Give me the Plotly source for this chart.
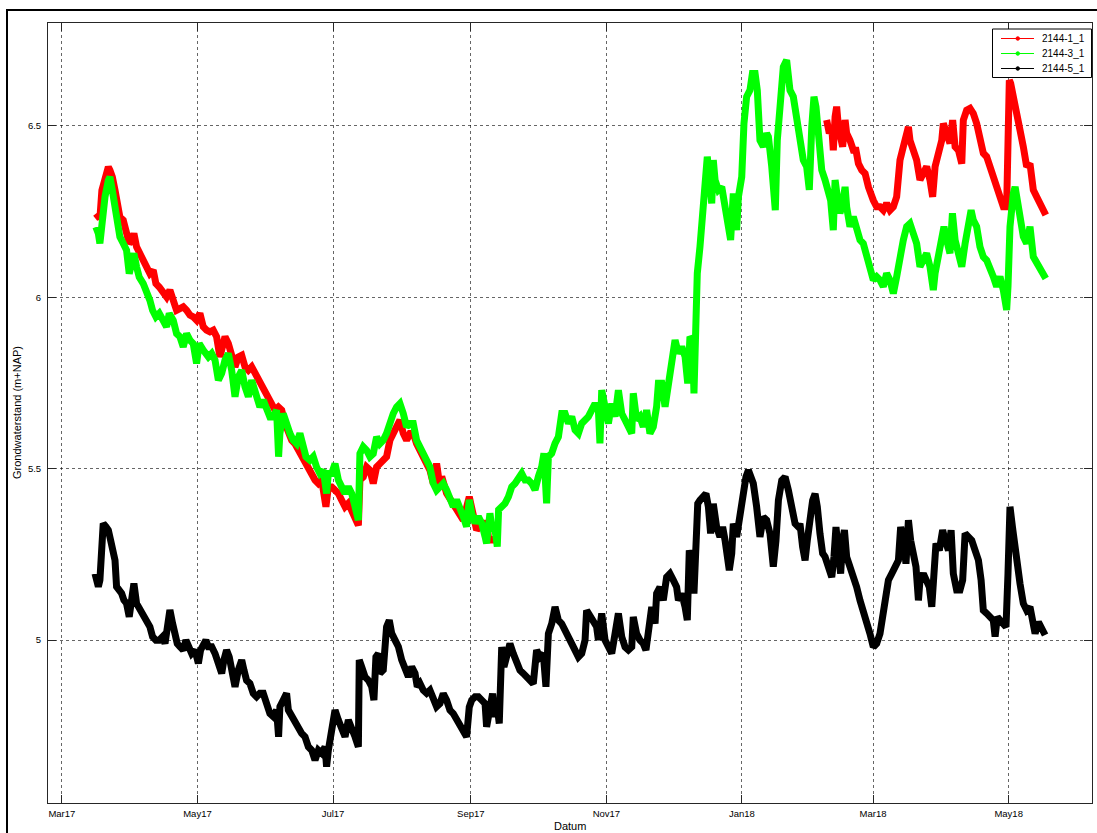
import pandas as pd
import plotly.graph_objects as go

# Groundwater levels (m+NAP) per well; time in days since 1 March 2017
START = pd.Timestamp("2017-03-01")

# ---- 2144-1_1 (two recording periods) ----
red_days_a = [15.3, 16.4, 17.1, 18.0, 19.4, 20.9, 21.6, 22.7, 23.9, 24.9, 26.1, 27.6, 29.1, 30.3, 31.4, 32.4,
              33.6, 35.1, 36.6, 38.1, 39.6, 41.1, 42.3, 43.8, 45.6, 47.1, 48.6, 50.1, 51.6, 53.1, 54.6, 56.1,
              57.6, 59.1, 60.6, 62.1, 63.6, 65.1, 66.6, 68.1, 69.6, 71.1, 72.3, 73.4, 74.9, 76.4, 77.9, 79.4,
              80.9, 82.4, 83.9, 85.4, 86.9, 88.4, 89.9, 91.4, 92.9, 94.4, 95.9, 97.4, 98.9, 100.4, 101.9, 103.4,
              104.9, 106.4, 107.9, 109.4, 110.9, 112.4, 113.9, 115.4, 116.9, 118.8, 119.9, 121.4, 122.9, 124.4,
              125.9, 127.4, 128.9, 130.4, 131.9, 133.4, 134.1, 135.6, 137.1, 138.6, 140.1, 141.6, 143.1, 144.6,
              146.1, 147.6, 149.1, 150.6, 152.1, 153.6, 155.1, 156.6, 158.1, 159.6, 161.1, 162.6, 164.1, 165.6,
              167.1, 168.6, 170.1, 170.9, 173.1, 176.1, 178.4, 180.6, 183.3, 185.1, 186.6, 188.9, 191.1, 191.9,
              193.4, 195.6]
red_level_a = [6.244, 6.239, 6.230, 6.312, 6.351, 6.380, 6.371, 6.351, 6.312, 6.273, 6.234, 6.225, 6.196, 6.157,
               6.166, 6.186, 6.147, 6.128, 6.098, 6.079, 6.069, 6.079, 6.040, 6.030, 6.011, 6.001, 6.021, 5.982,
               5.962, 5.967, 5.972, 5.962, 5.948, 5.943, 5.933, 5.953, 5.914, 5.904, 5.899, 5.904, 5.885, 5.826,
               5.865, 5.885, 5.865, 5.836, 5.797, 5.826, 5.831, 5.797, 5.787, 5.797, 5.778, 5.758, 5.739, 5.729,
               5.700, 5.680, 5.671, 5.680, 5.671, 5.632, 5.603, 5.583, 5.573, 5.554, 5.535, 5.525, 5.505, 5.486,
               5.467, 5.457, 5.467, 5.389, 5.447, 5.447, 5.437, 5.428, 5.408, 5.389, 5.399, 5.379, 5.360, 5.335,
               5.467, 5.476, 5.505, 5.496, 5.457, 5.505, 5.515, 5.525, 5.535, 5.583, 5.603, 5.612, 5.642, 5.603,
               5.583, 5.603, 5.603, 5.573, 5.554, 5.535, 5.515, 5.496, 5.457, 5.515, 5.447, 5.477, 5.428, 5.399,
               5.380, 5.350, 5.418, 5.350, 5.321, 5.341, 5.341, 5.302, 5.292, 5.292]
red_days_b = [344.1, 345.3, 346.4, 347.1, 347.9, 348.6, 349.4, 350.4, 351.3, 352.4, 353.1, 354.6, 356.1, 357.3,
              358.4, 359.9, 361.4, 362.9, 363.6, 365.1, 366.6, 368.1, 369.6, 371.1, 372.6, 374.1, 375.6, 377.1,
              378.6, 380.1, 380.9, 381.6, 383.1, 384.6, 386.1, 387.6, 389.1, 390.6, 391.8, 392.9, 394.4, 395.9,
              396.6, 398.1, 399.6, 400.8, 401.9, 403.4, 404.9, 405.6, 407.1, 408.6, 410.1, 411.6, 413.1, 414.6,
              416.1, 417.6, 419.1, 420.6, 422.1, 423.6, 425.1, 425.7, 426.3, 426.9, 428.1, 429.6, 431.1, 432.6,
              434.1, 435.6, 437.1, 438.6, 440.1, 441.6, 442.7]
red_level_b = [6.517, 6.478, 6.497, 6.429, 6.526, 6.556, 6.497, 6.468, 6.439, 6.517, 6.478, 6.458, 6.429, 6.429,
               6.390, 6.371, 6.361, 6.322, 6.303, 6.283, 6.264, 6.264, 6.254, 6.274, 6.254, 6.264, 6.293, 6.400,
               6.439, 6.478, 6.497, 6.458, 6.429, 6.400, 6.342, 6.361, 6.381, 6.342, 6.293, 6.381, 6.420, 6.458,
               6.507, 6.468, 6.449, 6.517, 6.439, 6.429, 6.390, 6.517, 6.546, 6.551, 6.536, 6.507, 6.458, 6.420,
               6.410, 6.381, 6.342, 6.313, 6.293, 6.264, 6.264, 6.458, 6.633, 6.624, 6.585, 6.546, 6.488, 6.439,
               6.381, 6.390, 6.313, 6.293, 6.274, 6.254, 6.240]

# ---- 2144-3_1 ----
green_days = [15.3, 16.4, 17.1, 18.0, 19.4, 20.9, 21.6, 22.7, 23.9, 24.9, 26.1, 27.6, 29.1, 30.3, 31.4, 32.4,
              33.6, 34.8, 36.6, 38.1, 39.6, 40.8, 42.3, 43.8, 45.6, 47.1, 48.3, 50.1, 51.6, 53.1, 54.6, 56.1,
              57.6, 59.1, 60.6, 61.8, 63.6, 65.9, 67.4, 68.9, 70.4, 71.9, 73.4, 74.9, 76.4, 77.9, 79.4, 80.9,
              82.4, 83.9, 85.4, 86.9, 89.1, 90.6, 92.1, 93.6, 95.1, 96.6, 97.5, 98.1, 99.6, 101.1, 102.6, 104.1,
              105.6, 107.1, 108.3, 109.8, 111.6, 113.1, 114.6, 116.1, 117.6, 119.1, 119.9, 121.4, 122.9, 124.4,
              125.9, 127.4, 128.9, 130.4, 131.9, 133.4, 134.1, 135.6, 137.1, 138.6, 140.1, 141.6, 143.1, 144.6,
              146.1, 147.6, 149.1, 150.6, 152.1, 153.6, 155.1, 156.6, 158.1, 159.6, 161.1, 162.6, 164.1, 165.6,
              167.1, 168.6, 170.1,
              171.6, 173.1, 174.6, 176.1, 177.6, 179.1, 180.6, 182.1, 183.3, 184.4, 185.9, 187.4, 188.9, 190.4,
              191.1, 192.6, 193.4, 194.9, 195.9, 196.5, 197.9, 199.4, 200.9, 202.4, 203.9, 205.4, 206.9, 208.4,
              209.9, 211.4, 212.9, 214.4, 215.9, 216.9, 218.1, 218.9, 220.4, 221.9, 223.4, 224.9, 226.4, 227.9,
              229.4, 230.9, 232.4, 233.9, 235.4, 236.9, 238.4, 239.9, 241.4, 242.1, 242.9, 244.4, 245.9, 247.4,
              248.9, 250.4, 251.9, 253.4, 254.9, 256.4, 257.1, 258.6, 260.1, 261.6, 263.1, 264.6, 266.1, 267.6,
              268.4, 269.9, 271.4, 272.9, 274.4, 275.9, 277.4, 278.9, 280.4, 281.6, 282.6, 283.8, 284.4, 285.0,
              285.9, 287.1, 288.2, 289.4, 290.4, 291.6, 292.4, 293.1, 293.9, 295.4, 296.9, 298.4, 299.9, 300.9,
              302.1, 303.6, 304.4, 305.9, 306.9, 308.1, 309.6, 310.7, 311.9, 312.9, 314.1, 315.6, 317.1, 317.9,
              319.4, 320.4, 321.0, 321.9, 323.1, 324.6, 326.1, 327.6, 329.1, 330.6,
              332.1, 333.6, 335.1, 336.3, 337.4, 338.4, 339.3, 340.4, 341.9, 343.4, 344.9, 345.9, 347.1, 347.9,
              348.9, 350.1, 351.3, 352.4, 353.1, 354.6, 356.1, 357.6, 359.1, 360.6, 362.1, 363.6, 365.1, 366.6,
              368.1, 369.6, 371.1, 372.6, 374.1, 375.6, 377.1, 378.6, 380.1, 381.6, 383.1, 384.6, 386.1, 387.6,
              389.1, 390.6, 392.1, 392.9, 394.4, 395.9, 396.9, 398.1, 399.6, 400.7, 401.9, 403.4, 404.9, 406.4,
              407.9, 409.1, 410.1, 411.6, 413.1, 414.6, 416.1, 417.6, 419.1, 420.6, 422.1, 423.6, 425.1, 425.7,
              426.6, 428.1, 428.9, 429.9, 431.1, 432.6, 434.1, 435.6, 437.1, 438.6, 440.1, 441.6, 442.7]
green_level = [6.205, 6.186, 6.157, 6.215, 6.293, 6.341, 6.351, 6.312, 6.264, 6.196, 6.176, 6.157, 6.137, 6.069,
               6.108, 6.128, 6.089, 6.059, 6.040, 6.021, 5.991, 5.962, 5.943, 5.953, 5.928, 5.914, 5.953, 5.933,
               5.894, 5.885, 5.855, 5.894, 5.875, 5.865, 5.807, 5.865, 5.846, 5.826, 5.836, 5.817, 5.758, 5.778,
               5.817, 5.836, 5.787, 5.710, 5.768, 5.787, 5.739, 5.710, 5.758, 5.719, 5.680, 5.700, 5.680, 5.651,
               5.651, 5.671, 5.535, 5.603, 5.661, 5.622, 5.603, 5.583, 5.573, 5.603, 5.564, 5.535, 5.525, 5.535,
               5.505, 5.486, 5.496, 5.428, 5.486, 5.486, 5.515, 5.467, 5.447, 5.428, 5.447, 5.428, 5.389, 5.350,
               5.544, 5.564, 5.554, 5.535, 5.544, 5.593, 5.573, 5.583, 5.603, 5.642, 5.661, 5.680, 5.690, 5.661,
               5.622, 5.632, 5.632, 5.583, 5.564, 5.544, 5.525, 5.505, 5.457, 5.437, 5.447,
               5.457, 5.438, 5.409, 5.389, 5.409, 5.389, 5.360, 5.331, 5.409, 5.370, 5.341, 5.360, 5.341, 5.302,
               5.282, 5.370, 5.331, 5.321, 5.273, 5.380, 5.389, 5.399, 5.418, 5.447, 5.457, 5.477, 5.486, 5.467,
               5.467, 5.457, 5.438, 5.477, 5.506, 5.545, 5.399, 5.535, 5.545, 5.574, 5.593, 5.661, 5.661, 5.632,
               5.652, 5.613, 5.603, 5.632, 5.642, 5.652, 5.671, 5.690, 5.671, 5.574, 5.729, 5.671, 5.632, 5.690,
               5.652, 5.729, 5.661, 5.642, 5.622, 5.603, 5.720, 5.642, 5.652, 5.622, 5.671, 5.603, 5.622, 5.681,
               5.749, 5.749, 5.681, 5.759, 5.797, 5.875, 5.836, 5.856, 5.827, 5.749, 5.885, 5.875, 5.720, 5.934,
               6.070, 6.147, 6.245, 6.390, 6.410, 6.332, 6.274, 6.400, 6.342, 6.313, 6.322, 6.264, 6.206, 6.167,
               6.303, 6.196, 6.293, 6.351, 6.507, 6.585, 6.604, 6.653, 6.653, 6.604, 6.458, 6.439, 6.478, 6.468,
               6.381, 6.313, 6.254, 6.458, 6.585, 6.672, 6.692, 6.604, 6.585, 6.517,
               6.468, 6.400, 6.381, 6.313, 6.497, 6.585, 6.556, 6.488, 6.371, 6.342, 6.293, 6.283, 6.196, 6.342,
               6.293, 6.245, 6.274, 6.322, 6.264, 6.206, 6.235, 6.196, 6.167, 6.157, 6.118, 6.089, 6.050, 6.060,
               6.050, 6.031, 6.070, 6.050, 6.011, 6.060, 6.128, 6.167, 6.206, 6.215, 6.186, 6.157, 6.089, 6.108,
               6.128, 6.089, 6.021, 6.070, 6.128, 6.186, 6.206, 6.167, 6.128, 6.245, 6.167, 6.128, 6.089, 6.157,
               6.206, 6.254, 6.225, 6.206, 6.147, 6.118, 6.108, 6.089, 6.060, 6.031, 6.060, 6.021, 5.963, 6.031,
               6.206, 6.303, 6.322, 6.283, 6.235, 6.177, 6.157, 6.206, 6.118, 6.099, 6.089, 6.070, 6.055]

# ---- 2144-5_1 ----
black_days = [14.9, 15.6, 16.4, 17.1, 17.9, 18.6, 19.8, 20.9, 21.9, 22.8, 23.9, 24.6, 25.8, 26.9, 27.9, 29.1,
              30.3, 31.4, 32.4, 33.6, 35.1, 36.6, 38.1, 39.6, 40.8, 42.3, 43.8, 45.3, 46.4, 47.4, 48.6, 49.8,
              50.9, 51.9, 53.1, 54.6, 55.8, 56.9, 58.4, 59.9, 61.4, 62.4, 63.6, 64.8, 65.9, 67.4, 68.9, 70.4,
              71.9, 72.9, 74.1, 75.3, 76.4, 77.9, 79.4, 80.9, 81.9, 83.1, 84.6, 86.1, 87.6, 89.1, 90.6, 92.1,
              93.6, 95.1, 96.6, 97.5, 98.1, 99.6, 101.1, 101.9, 103.4, 104.9, 106.4, 107.9, 109.4, 110.9, 112.4,
              113.9, 115.4, 116.9, 118.4, 119.1, 119.9, 121.4, 122.9, 124.4, 125.9, 127.4, 128.9, 130.4, 131.9,
              133.4, 133.8, 134.9, 136.4, 137.9, 139.4, 140.4, 141.3, 142.4, 143.1, 144.6, 145.4, 146.1, 147.3,
              148.4, 149.9, 151.4, 152.9, 154.4, 155.9, 157.4, 158.9, 159.9, 161.1, 162.6, 164.1, 165.6, 167.1,
              168.6, 170.1,
              171.6, 173.1, 174.6, 176.1, 177.6, 179.1, 180.6, 182.1, 183.3, 184.4, 185.9, 187.4, 188.9, 190.4,
              191.1, 192.6, 193.8, 194.9, 195.9, 196.8, 197.9, 198.9, 200.1, 201.6, 203.1, 204.6, 206.1, 207.6,
              209.1, 210.6, 212.1, 213.6, 215.1, 216.6, 217.8, 218.9, 220.4, 221.9, 223.4, 224.9, 226.4, 227.9,
              229.4, 230.9, 232.4, 233.9, 235.4, 236.1, 237.6, 239.1, 240.6, 241.4, 242.9, 244.4, 245.9, 247.4,
              248.9, 250.4, 251.9, 253.4, 254.9, 256.4, 257.1, 258.6, 260.1, 261.6, 262.8, 263.9, 265.4, 266.9,
              267.6, 269.1, 270.6, 272.1, 273.6, 275.1, 276.6, 277.4, 278.9, 280.4, 281.4, 282.3, 283.4, 284.4,
              285.0, 286.1, 287.1, 288.6, 289.8, 290.9, 291.9, 293.1, 294.6, 296.1, 297.3, 298.4, 299.4, 300.3,
              301.4, 302.1, 303.6, 305.1, 306.6, 307.8, 308.9, 310.1, 311.1, 312.6, 314.1, 315.6, 317.1, 318.6,
              320.1, 321.3, 322.4, 323.9, 325.4, 326.9, 328.4, 329.9, 331.4,
              332.1, 333.3, 334.4, 335.4, 336.6, 337.8, 338.9, 339.9, 341.1, 342.3, 343.4, 344.9, 346.4, 347.4,
              348.3, 349.4, 350.4, 351.3, 352.1, 353.1, 354.6, 356.1, 357.6, 359.1, 360.6, 362.1, 363.6, 365.1,
              366.6, 368.1, 369.6, 370.8, 371.9, 373.4, 374.9, 376.4, 377.4, 378.6, 379.8, 380.9, 381.9, 383.1,
              384.3, 385.4, 386.1, 387.6, 389.1, 390.3, 391.4, 392.4, 393.3, 394.8, 396.3, 397.4, 398.9, 400.1,
              401.1, 402.6, 404.1, 405.3, 406.4, 407.9, 409.4, 410.9, 412.4, 413.6, 414.6, 416.1, 417.6, 419.1,
              419.9, 420.9, 422.1, 423.6, 424.8, 425.7, 426.6, 427.7, 428.9, 429.9, 431.1, 432.6, 434.1, 435.6,
              436.8, 437.9, 439.4, 440.9, 442.4]
black_level = [5.194, 5.165, 5.156, 5.175, 5.292, 5.340, 5.331, 5.321, 5.292, 5.253, 5.233, 5.156, 5.146, 5.136,
               5.117, 5.107, 5.068, 5.117, 5.165, 5.107, 5.088, 5.078, 5.058, 5.039, 5.010, 5.000, 5.000, 5.010,
               4.990, 5.049, 5.088, 5.049, 5.010, 4.990, 4.981, 4.971, 5.000, 4.981, 4.961, 4.971, 4.932, 4.971,
               4.990, 5.000, 4.981, 4.981, 4.961, 4.922, 4.903, 4.942, 4.971, 4.951, 4.913, 4.864, 4.913, 4.942,
               4.913, 4.883, 4.874, 4.845, 4.835, 4.845, 4.845, 4.815, 4.786, 4.777, 4.796, 4.718, 4.806, 4.825,
               4.845, 4.796, 4.777, 4.767, 4.747, 4.728, 4.718, 4.689, 4.679, 4.650, 4.679, 4.670, 4.689, 4.631,
               4.679, 4.747, 4.796, 4.767, 4.747, 4.718, 4.767, 4.747, 4.718, 4.689, 4.942, 4.922, 4.893, 4.883,
               4.864, 4.825, 4.951, 4.961, 4.903, 4.913, 4.961, 5.039, 5.058, 5.020, 5.000, 4.981, 4.942, 4.922,
               4.893, 4.922, 4.903, 4.864, 4.874, 4.854, 4.845, 4.854, 4.825, 4.806, 4.815,
               4.844, 4.825, 4.796, 4.786, 4.767, 4.757, 4.737, 4.718, 4.805, 4.825, 4.835, 4.835, 4.825, 4.815,
               4.747, 4.815, 4.844, 4.776, 4.805, 4.757, 4.980, 4.922, 4.951, 4.990, 4.961, 4.932, 4.912, 4.903,
               4.893, 4.883, 4.873, 4.971, 4.951, 4.961, 4.864, 5.019, 5.048, 5.097, 5.058, 5.048, 5.029, 5.010,
               4.990, 4.961, 4.951, 4.961, 5.000, 5.087, 5.068, 5.048, 5.039, 5.000, 5.078, 5.000, 4.980, 4.961,
               5.019, 5.078, 5.010, 4.980, 4.971, 4.980, 5.068, 5.019, 5.000, 4.990, 4.971, 5.019, 5.097, 5.048,
               5.136, 5.155, 5.116, 5.184, 5.194, 5.175, 5.155, 5.116, 5.136, 5.097, 5.058, 5.262, 5.233, 5.136,
               5.272, 5.398, 5.408, 5.418, 5.427, 5.389, 5.311, 5.398, 5.330, 5.301, 5.330, 5.291, 5.243, 5.204,
               5.253, 5.340, 5.301, 5.369, 5.408, 5.476, 5.496, 5.476, 5.457, 5.389, 5.301, 5.359, 5.350, 5.311,
               5.214, 5.291, 5.408, 5.466, 5.476, 5.437, 5.389, 5.340, 5.330,
               5.340, 5.272, 5.233, 5.291, 5.359, 5.408, 5.427, 5.389, 5.311, 5.253, 5.243, 5.214, 5.184, 5.243,
               5.330, 5.262, 5.194, 5.291, 5.321, 5.243, 5.214, 5.194, 5.155, 5.116, 5.087, 5.058, 5.019, 4.980,
               4.990, 5.019, 5.078, 5.136, 5.175, 5.194, 5.214, 5.233, 5.330, 5.291, 5.223, 5.350, 5.291, 5.253,
               5.214, 5.116, 5.175, 5.194, 5.175, 5.155, 5.097, 5.214, 5.282, 5.262, 5.321, 5.291, 5.262, 5.321,
               5.194, 5.146, 5.146, 5.175, 5.311, 5.301, 5.291, 5.262, 5.233, 5.175, 5.087, 5.078, 5.068, 5.058,
               5.010, 5.068, 5.058, 5.048, 5.039, 5.194, 5.389, 5.330, 5.262, 5.214, 5.165, 5.107, 5.087, 5.097,
               5.039, 5.019, 5.053, 5.029, 5.015]

# axis ticks
y_ticks = [5, 5.5, 6, 6.5]
y_tick_text = ["5", "5.5", "6", "6.5"]
x_tick_dates = ["2017-03-01", "2017-05-01", "2017-07-01", "2017-09-01", "2017-11-01",
                "2018-01-01", "2018-03-01", "2018-05-01"]
x_tick_text = ["Mar17", "May17", "Jul17", "Sep17", "Nov17", "Jan18", "Mar18", "May18"]

for d, v in [(red_days_a, red_level_a), (red_days_b, red_level_b),
             (green_days, green_level), (black_days, black_level)]:
    assert len(d) == len(v), (len(d), len(v))


def to_dates(days):
    return list(START + pd.to_timedelta(days, unit="D"))


red_x = to_dates(red_days_a) + [None] + to_dates(red_days_b)
red_y = red_level_a + [None] + red_level_b

series = [
    ("2144-1_1", red_x, red_y, "#ff0000"),
    ("2144-3_1", to_dates(green_days), green_level, "#00ff00"),
    ("2144-5_1", to_dates(black_days), black_level, "#000000"),
]

FONT = "Liberation Sans, Arial, sans-serif"
fig = go.Figure()
for name, xs, ys, col in series:
    fig.add_trace(go.Scatter(
        x=xs, y=ys, mode="lines", name=name, showlegend=False,
        line=dict(color=col, width=7), connectgaps=False, hoverinfo="skip"))

# compact boxed legend (line sample with a dot, then the well name)
PLOT_L, PLOT_W, PLOT_T, PLOT_H = 48, 1044, 23, 780


def px(xp):
    return (xp - PLOT_L) / PLOT_W


def py(yp):
    return 1 - (yp - PLOT_T) / PLOT_H


shapes = [
    # outer figure frame
    dict(type="rect", xref="paper", yref="paper",
         x0=px(7), x1=px(1106), y0=py(850), y1=py(10),
         line=dict(color="#000000", width=2), fillcolor="rgba(0,0,0,0)", layer="above"),
    # legend box
    dict(type="rect", xref="paper", yref="paper",
         x0=px(992.5), x1=px(1091.5), y0=py(77.5), y1=py(29),
         line=dict(color="#000000", width=1), fillcolor="white", layer="above"),
]
annotations = [
    dict(text="Datum", xref="paper", yref="paper", x=0.5, y=py(826),
         xanchor="center", yanchor="middle", showarrow=False,
         font=dict(family=FONT, size=11)),
    dict(text="Grondwaterstand (m+NAP)", xref="paper", yref="paper",
         x=px(17), y=0.5, textangle=-90, xanchor="center", yanchor="middle",
         showarrow=False, font=dict(family=FONT, size=11)),
]
for i, (name, _, _, col) in enumerate(series):
    row = 38.5 + 15 * i
    shapes.append(dict(type="line", xref="paper", yref="paper",
                       x0=px(1001), x1=px(1034), y0=py(row), y1=py(row),
                       line=dict(color=col, width=1), layer="above"))
    shapes.append(dict(type="circle", xref="paper", yref="paper",
                       x0=px(1016), x1=px(1019.5), y0=py(row + 1.75), y1=py(row - 1.75),
                       line=dict(color=col, width=1), fillcolor=col, layer="above"))
    annotations.append(dict(text=name, xref="paper", yref="paper", x=px(1039.5), y=py(row),
                            xanchor="left", yanchor="middle", showarrow=False,
                            font=dict(family=FONT, size=10, color="#000000")))

axis_common = dict(
    showline=True, linecolor="#262626", linewidth=1, mirror="ticks",
    ticks="inside", ticklen=8, tickcolor="#262626", tickwidth=1,
    showgrid=True, gridcolor="rgba(0,0,0,0.6)", griddash="dot", gridwidth=1,
    zeroline=False, tickfont=dict(family=FONT, size=9.5, color="#000000"),
)

fig.update_layout(
    width=1097, height=833,
    margin=dict(l=48, r=5, t=23, b=30),
    paper_bgcolor="white", plot_bgcolor="white",
    font=dict(family=FONT, size=10, color="#000000"),
    showlegend=False,
    xaxis=dict(type="date", range=["2017-02-22 18:00", "2018-06-07 12:00"],
               tickvals=x_tick_dates, ticktext=x_tick_text, ticklabelstandoff=2,
               **axis_common),
    yaxis=dict(range=[4.525, 6.80], tickvals=y_ticks, ticktext=y_tick_text,
               ticklabelstandoff=4, **axis_common),
    annotations=annotations,
    shapes=shapes,
)

fig.write_html("out.html")
